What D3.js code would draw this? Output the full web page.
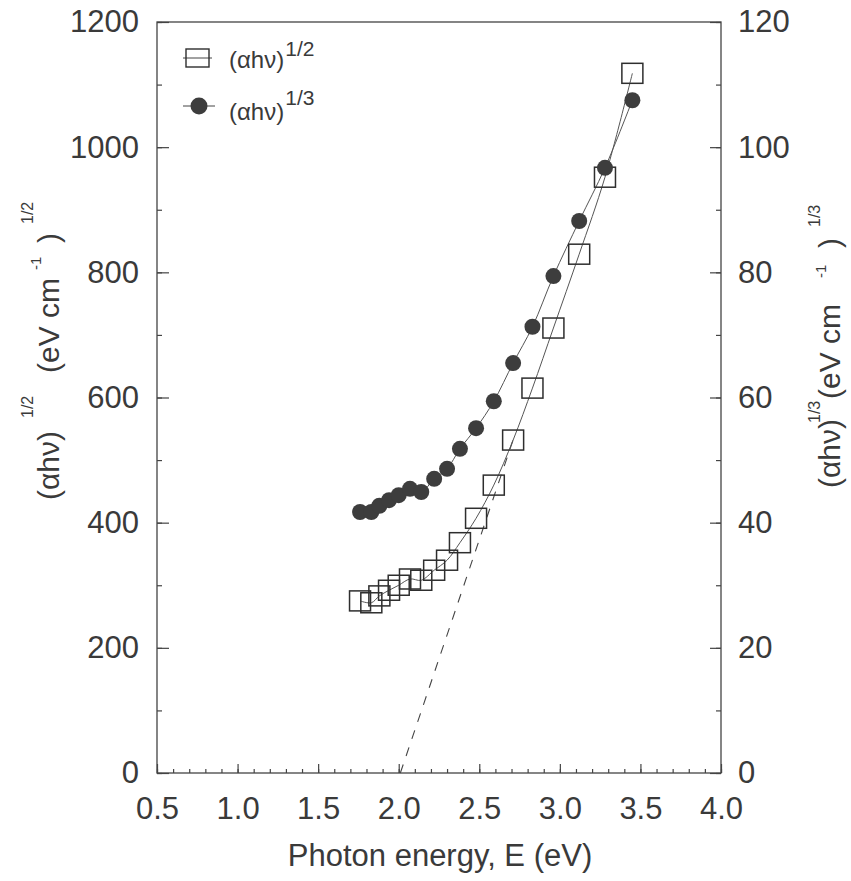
<!DOCTYPE html>
<html>
<head>
<meta charset="utf-8">
<script src="https://cdn.jsdelivr.net/npm/d3@7"></script>
<style>
  body { margin: 0; background: #fff; }
  svg { display: block; font-family: "Liberation Sans", Arial, Helvetica, sans-serif; }
  .axis path { display: none }
  .axis line { stroke: #444; stroke-width: 1.2 }
  .axis text { fill: #3a3a3a; font-size: 31px }
</style>
</head>
<body>
<svg id="chart" width="851" height="881"></svg>
<script>
// photon energy (eV), shared by both series
var energy = [1.76, 1.83, 1.88, 1.94, 2.00, 2.07, 2.14, 2.22, 2.30, 2.38, 2.48, 2.59, 2.71, 2.83, 2.96, 3.12, 3.28, 3.45]
// (alpha h nu)^1/2, left axis
var sqrtVals = [275, 272, 283, 292, 300, 310, 308, 324, 340, 368, 407, 460, 532, 615, 711, 829, 952, 1118]
// (alpha h nu)^1/3, right axis
var cbrtVals = [41.7, 41.7, 42.7, 43.6, 44.4, 45.4, 44.9, 47.0, 48.6, 51.8, 55.1, 59.4, 65.5, 71.3, 79.4, 88.2, 96.7, 107.5]
// extrapolated straight line (dashed)
var fitE = [2.01, 2.72]
var fitVals = [0, 540]

var xTicks = [0.5, 1.0, 1.5, 2.0, 2.5, 3.0, 3.5, 4.0]
var leftTicks = [0, 200, 400, 600, 800, 1000, 1200]
var rightTicks = [0, 20, 40, 60, 80, 100, 120]

var box = { l: 157, r: 721, t: 22, b: 773 }
var ink = '#3a3a3a'

var svg = d3.select('#chart')

var x = d3.scaleLinear().domain([0.5, 4.0]).range([box.l, box.r])
var y1 = d3.scaleLinear().domain([0, 1200]).range([box.b, box.t])
var y2 = d3.scaleLinear().domain([0, 120]).range([box.b, box.t])

// minor tick positions
var xMinor = d3.range(5, 41).map(function(d) { return d / 10 })
var leftMinor = d3.range(0, 1201, 100)
var rightMinor = d3.range(0, 121, 10)

// frame
svg.append('rect')
  .attr('x', box.l).attr('y', box.t)
  .attr('width', box.r - box.l).attr('height', box.b - box.t)
  .attr('fill', 'none').attr('stroke', '#444').attr('stroke-width', 1.3)

// axes, ticks pointing inward
svg.append('g').attr('class', 'axis')
  .attr('transform', 'translate(0,' + box.b + ')')
  .call(d3.axisBottom(x).tickValues(xMinor).tickSize(-4).tickFormat(''))
svg.append('g').attr('class', 'axis')
  .attr('transform', 'translate(0,' + box.b + ')')
  .call(d3.axisBottom(x).tickValues(xTicks).tickSize(-9).tickPadding(24).tickFormat(d3.format('.1f')))

svg.append('g').attr('class', 'axis')
  .attr('transform', 'translate(' + box.l + ',0)')
  .call(d3.axisLeft(y1).tickValues(leftMinor).tickSize(-5).tickFormat(''))
svg.append('g').attr('class', 'axis')
  .attr('transform', 'translate(' + box.l + ',0)')
  .call(d3.axisLeft(y1).tickValues(leftTicks).tickSize(-12).tickPadding(18).tickFormat(d3.format('d')))

svg.append('g').attr('class', 'axis')
  .attr('transform', 'translate(' + box.r + ',0)')
  .call(d3.axisRight(y2).tickValues(rightMinor).tickSize(-5).tickFormat(''))
svg.append('g').attr('class', 'axis')
  .attr('transform', 'translate(' + box.r + ',0)')
  .call(d3.axisRight(y2).tickValues(rightTicks).tickSize(-11).tickPadding(17).tickFormat(d3.format('d')))

// curves
var sqrtPts = zipPts(energy, sqrtVals)
var cbrtPts = zipPts(energy, cbrtVals)
function zipPts(a, b) { return a.map(function(d, i) { return [d, b[i]] }) }

var lineL = d3.line().curve(d3.curveCatmullRom.alpha(0.5))
  .x(function(d) { return x(d[0]) }).y(function(d) { return y1(d[1]) })
var lineR = d3.line().curve(d3.curveCatmullRom.alpha(0.5))
  .x(function(d) { return x(d[0]) }).y(function(d) { return y2(d[1]) })

svg.append('path').attr('d', lineL(zipPts(fitE, fitVals)))
  .attr('fill', 'none').attr('stroke', '#444').attr('stroke-width', 1.1)
  .attr('stroke-dasharray', '9,9')

svg.append('path').attr('d', lineL(sqrtPts))
  .attr('fill', 'none').attr('stroke', '#555').attr('stroke-width', 1)
svg.append('path').attr('d', lineR(cbrtPts))
  .attr('fill', 'none').attr('stroke', '#555').attr('stroke-width', 1)

var sq = 20
svg.append('g').selectAll('rect').data(sqrtPts).enter().append('rect')
  .attr('x', function(d) { return x(d[0]) - sq / 2 - 0.5 })
  .attr('y', function(d) { return y1(d[1]) - sq / 2 })
  .attr('width', sq + 1).attr('height', sq)
  .attr('fill', 'none').attr('stroke', '#2e2e2e').attr('stroke-width', 1.5)

svg.append('g').selectAll('circle').data(cbrtPts).enter().append('circle')
  .attr('cx', function(d) { return x(d[0]) })
  .attr('cy', function(d) { return y2(d[1]) })
  .attr('r', 8)
  .attr('fill', '#3d3d3d')

// legend
var lg = svg.append('g')
lg.append('line').attr('x1', 183).attr('x2', 212).attr('y1', 58).attr('y2', 58)
  .attr('stroke', '#444').attr('stroke-width', 1)
lg.append('rect').attr('x', 186).attr('y', 49).attr('width', 23).attr('height', 18)
  .attr('fill', 'none').attr('stroke', '#2e2e2e').attr('stroke-width', 1.4)
lg.append('line').attr('x1', 183).attr('x2', 215).attr('y1', 106).attr('y2', 106)
  .attr('stroke', '#444').attr('stroke-width', 1)
lg.append('circle').attr('cx', 199).attr('cy', 106).attr('r', 8.5).attr('fill', '#3d3d3d')

function supText(g, px, py, base, sup, size, supSize, shift) {
  var t = g.append('text').attr('x', px).attr('y', py)
    .attr('fill', ink).style('font-size', size + 'px')
  t.append('tspan').text(base)
  t.append('tspan').attr('dy', -shift).attr('dx', 1).style('font-size', supSize + 'px').text(sup)
  return t
}
supText(lg, 229, 68, '(\u03b1h\u03bd)', '1/2', 24, 21, 12)
supText(lg, 229, 120, '(\u03b1h\u03bd)', '1/3', 24, 21, 15)

// rotated axis titles, pieces placed along the axis
function vtext(px, py, str, size) {
  svg.append('text')
    .attr('transform', 'translate(' + px + ',' + py + ') rotate(-90)')
    .attr('fill', ink).style('font-size', size + 'px')
    .text(str)
}
vtext(59, 500, '(\u03b1h\u03bd)', 30)
vtext(33, 418, '1/2', 16)
vtext(59, 373, '(eV cm', 30)
vtext(41, 270, '-1', 15)
vtext(59, 243, ')', 30)
vtext(33, 224, '1/2', 16)

vtext(840, 488, '(\u03b1h\u03bd)', 30)
vtext(820, 423, '1/3', 16)
vtext(840, 399, '(eV cm', 30)
vtext(826, 278, '-1', 15)
vtext(840, 248, ')', 30)
vtext(820, 227, '1/3', 16)

svg.append('text')
  .attr('x', (box.l + box.r) / 2 + 1).attr('y', 866)
  .attr('text-anchor', 'middle').attr('fill', ink).style('font-size', '31px')
  .text('Photon energy, E (eV)')
</script>
</body>
</html>
